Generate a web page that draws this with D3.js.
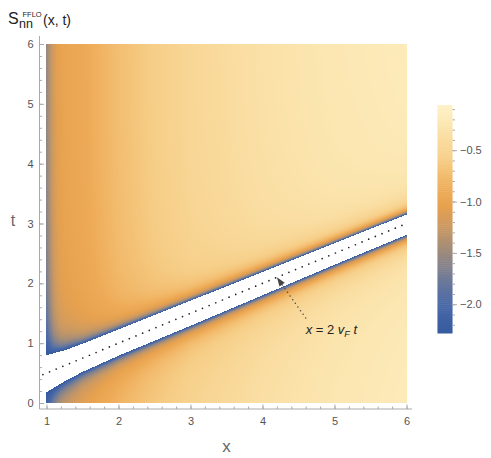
<!DOCTYPE html>
<html>
<head>
<meta charset="utf-8">
<script src="https://cdn.jsdelivr.net/npm/d3@7"></script>
<style>
  body { margin: 0; background: #fff; }
  text { font-family: "Liberation Sans", Arial, sans-serif; }
</style>
</head>
<body>
<div id="chart"></div>
<script>
// values
const xTicks = [1, 2, 3, 4, 5, 6];
const tTicks = [0, 1, 2, 3, 4, 5, 6];
const barTicks = [-2.0, -1.5, -1.0, -0.5];
const valueRange = [-2.28, -0.06];

// edges of the white band (t at given x)
const edgeX     = [1, 1.25, 1.5, 2, 2.5, 3, 4, 5, 6];
const edgeUpper = [0.80, 0.88, 0.99, 1.23, 1.47, 1.71, 2.19, 2.67, 3.15];
const edgeLower = [0.18, 0.36, 0.52, 0.79, 1.04, 1.29, 1.80, 2.31, 2.81];

// value far from the band, along x
const baseX   = [1, 1.05, 1.1, 1.16, 1.25, 1.35, 1.5, 1.7, 2, 2.5, 3, 4, 5, 6];
const baseVal = [-1.47, -1.3, -1.15, -1.04, -0.98, -0.95, -0.92, -0.84, -0.72, -0.57, -0.46, -0.32, -0.22, -0.16];

// how far (in t) the darkening next to the band reaches, along x
const reachX   = [1, 1.05, 1.1, 1.2, 1.5, 2, 3, 6];
const reachVal = [0.55, 0.3, 0.18, 0.12, 0.08, 0.07, 0.06, 0.055];
const edgeValue = -2.28;

// colour function
const colorVals = [-2.28, -2.0, -1.75, -1.5, -1.25, -1.05, -0.9, -0.6, -0.3, -0.06];
const colorHex  = ["#365a9f", "#4a69a8", "#6f7a98", "#9b8a7d", "#c99863", "#e6a14f", "#eeab57", "#f6cd86", "#fbe3ab", "#fef2c8"];

// centre line x = 2 vF t and its label
const vF = 1;
const lineX = [0.95, 6];
const arrowTip = 4.2;           // x where the arrow meets the line
const arrowTail = [4.6, 1.42];  // (x, t)
const labelAt = [4.6, 1.15];

const q = 1.2, belowWiden = 1.3;

const width = 491, height = 458;
const svg = d3.select('#chart').append('svg')
  .attr('width', width)
  .attr('height', height);

const x = d3.scaleLinear().domain([1, 6]).range([46.5, 406.5]);
const y = d3.scaleLinear().domain([0, 6]).range([403, 44]);

const upper = d3.scaleLinear().domain(edgeX).range(edgeUpper).clamp(true);
const lower = d3.scaleLinear().domain(edgeX).range(edgeLower).clamp(true);
const base = d3.scaleLinear().domain(baseX).range(baseVal).clamp(true);
const reach = d3.scaleLinear().domain(reachX).range(reachVal).clamp(true);
const color = d3.scaleLinear().domain(colorVals).range(colorHex).interpolate(d3.interpolateRgb);

// density image
const x0 = 46, y0 = 44, w = 361, h = 359;
const canvas = document.createElement('canvas');
canvas.width = w; canvas.height = h;
const ctx = canvas.getContext('2d');
const img = ctx.createImageData(w, h);
const lut = d3.range(0, 1001).map(i => d3.color(color(valueRange[0] + (valueRange[1] - valueRange[0]) * i / 1000)));
for (let j = 0; j < h; j++) {
  const t = y.invert(y0 + j + 0.5);
  for (let i = 0; i < w; i++) {
    const xv = x.invert(x0 + i + 0.5);
    const up = upper(xv), lo = lower(xv);
    const p = (j * w + i) * 4;
    img.data[p + 3] = 255;
    if (t < up && t > lo) { img.data[p] = 255; img.data[p+1] = 255; img.data[p+2] = 255; continue; }
    const L = t >= up ? reach(xv) : reach(xv) * belowWiden;
    const d = t >= up ? t - up : lo - t;
    const f = 1 / (1 + Math.pow(d / L, q));
    const b = base(xv);
    const v = b + (edgeValue - b) * f;
    const s = Math.max(0, Math.min(1, (v - valueRange[0]) / (valueRange[1] - valueRange[0])));
    const c = lut[Math.round(s * 1000)];
    img.data[p] = c.r; img.data[p+1] = c.g; img.data[p+2] = c.b;
  }
}
ctx.putImageData(img, 0, 0);
svg.append('image')
  .attr('x', x0).attr('y', y0)
  .attr('width', w).attr('height', h)
  .attr('href', canvas.toDataURL());

// centre line
svg.append('line')
  .attr('x1', x(lineX[0])).attr('y1', y(lineX[0] / (2 * vF)))
  .attr('x2', x(lineX[1])).attr('y2', y(lineX[1] / (2 * vF)))
  .attr('stroke', '#222')
  .attr('stroke-width', 1.7)
  .attr('stroke-linecap', 'round')
  .attr('stroke-dasharray', '0 7.2');

// annotation arrow
const tipX = x(arrowTip), tipY = y(arrowTip / (2 * vF));
const tailX = x(arrowTail[0]), tailY = y(arrowTail[1]);
const ang = Math.atan2(tipY - tailY, tipX - tailX);
const ah = 9, aw = 3.2;
const bx = tipX - Math.cos(ang) * ah, by = tipY - Math.sin(ang) * ah;
svg.append('line')
  .attr('x1', tailX).attr('y1', tailY)
  .attr('x2', bx).attr('y2', by)
  .attr('stroke', '#444')
  .attr('stroke-width', 1.5)
  .attr('stroke-linecap', 'round')
  .attr('stroke-dasharray', '0 4.5');
svg.append('path')
  .attr('d', `M${tipX},${tipY}L${bx + Math.sin(ang) * aw},${by - Math.cos(ang) * aw}L${bx - Math.sin(ang) * aw},${by + Math.cos(ang) * aw}Z`)
  .attr('fill', '#444');

const lab = svg.append('text')
  .attr('x', x(labelAt[0])).attr('y', y(labelAt[1]))
  .attr('fill', '#222')
  .style('font-size', '13px');
lab.append('tspan').attr('font-style', 'italic').text('x');
lab.append('tspan').text(' = 2 ');
lab.append('tspan').attr('font-style', 'italic').text('v');
lab.append('tspan').attr('font-style', 'italic').attr('font-size', '9px').attr('dy', 3).text('F');
lab.append('tspan').attr('font-style', 'italic').attr('dy', -3).text(' t');

// axes
const axisColor = '#aaa', labelColor = '#555';
function styleAxis(g) {
  g.select('.domain').remove();
  g.selectAll('line').attr('stroke', axisColor);
  g.selectAll('text').attr('fill', labelColor).style('font-size', '11px');
}
const xMinor = d3.range(1, 6.001, 0.2);
const tMinor = d3.range(0, 6.001, 0.2);
const axY = 409, axX = 39.5;

svg.append('g').attr('transform', `translate(0,${axY})`)
  .call(d3.axisBottom(x).tickValues(xMinor).tickSize(-2.5).tickFormat(''))
  .call(styleAxis);
svg.append('g').attr('transform', `translate(0,${axY})`)
  .call(d3.axisBottom(x).tickValues(xTicks).tickSize(-4.5).tickPadding(8).tickFormat(d3.format('d')))
  .call(styleAxis);
svg.append('g').attr('transform', `translate(${axX},0)`)
  .call(d3.axisLeft(y).tickValues(tMinor).tickSize(-2.5).tickFormat(''))
  .call(styleAxis);
svg.append('g').attr('transform', `translate(${axX},0)`)
  .call(d3.axisLeft(y).tickValues(tTicks).tickSize(-4.5).tickPadding(6).tickFormat(d3.format('d')))
  .call(styleAxis);

svg.append('line').attr('x1', axX).attr('x2', 412).attr('y1', axY).attr('y2', axY).attr('stroke', axisColor);
svg.append('line').attr('x1', axX).attr('x2', axX).attr('y1', 36).attr('y2', axY).attr('stroke', axisColor);

svg.append('text').attr('x', 226.5).attr('y', 452).attr('text-anchor', 'middle')
  .attr('fill', '#666').style('font-size', '17px').text('x');
svg.append('text').attr('x', 13).attr('y', 226).attr('text-anchor', 'middle')
  .attr('fill', '#666').style('font-size', '16px').text('t');

// title
const title = svg.append('text').attr('x', 8).attr('y', 24).attr('fill', '#222').style('font-size', '16px');
title.append('tspan').text('S');
title.append('tspan').attr('x', 22.5).attr('y', 16.5).style('font-size', '7.5px').text('FFLO');
title.append('tspan').attr('x', 19).attr('y', 28).style('font-size', '12.5px').text('nn');
title.append('tspan').attr('x', 43).attr('y', 25).style('font-size', '14px').text('(x, t)');

// colour bar
const cb = d3.scaleLinear().domain(valueRange).range([333, 105]);
const stripes = d3.range(valueRange[0], valueRange[1], 0.02);
svg.append('g').selectAll('rect')
  .data(stripes)
  .enter()
  .append('rect')
    .attr('x', 437.5)
    .attr('width', 15)
    .attr('y', d => cb(Math.min(d + 0.02, valueRange[1])))
    .attr('height', d => cb(d) - cb(Math.min(d + 0.02, valueRange[1])) + 0.5)
    .attr('fill', d => color(d + 0.01));

const cbMinor = d3.range(-2.2, -0.05, 0.1);
svg.append('g').attr('transform', 'translate(452.5,0)')
  .call(d3.axisRight(cb).tickValues(cbMinor).tickSize(2.5).tickFormat(''))
  .call(styleAxis);
svg.append('g').attr('transform', 'translate(452.5,0)')
  .call(d3.axisRight(cb).tickValues(barTicks).tickSize(4.5).tickPadding(3).tickFormat(d3.format('.1f')))
  .call(styleAxis);
</script>
</body>
</html>
